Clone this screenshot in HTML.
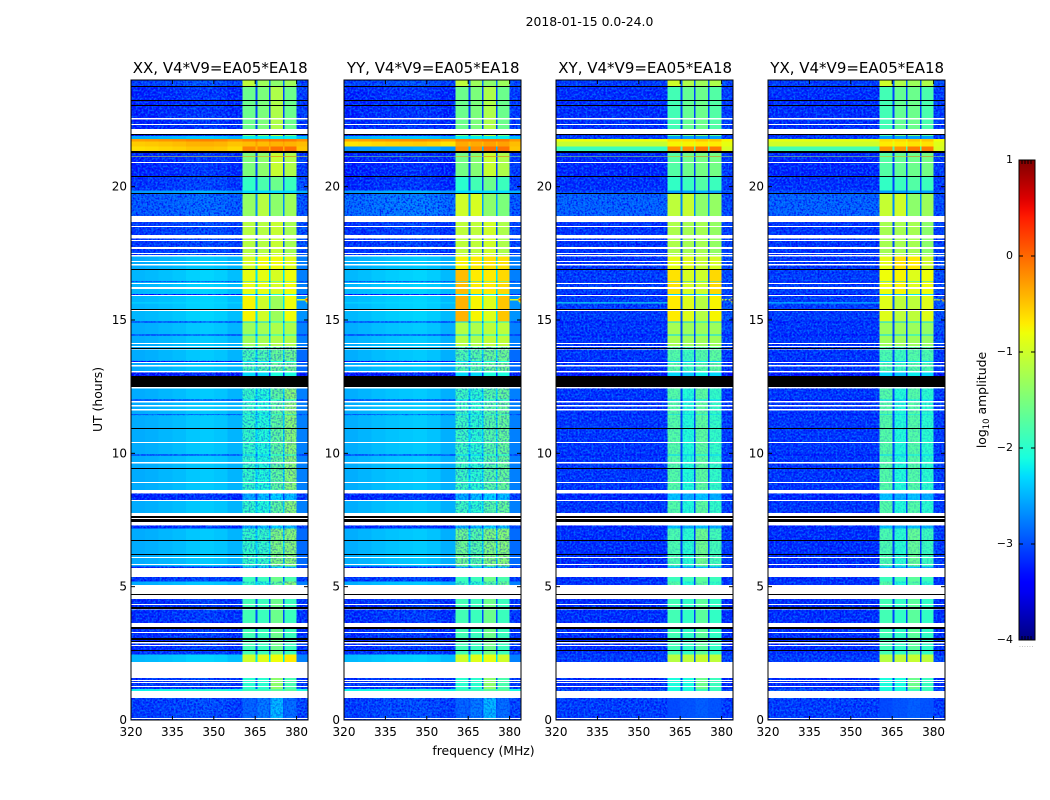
<!DOCTYPE html>
<html>
<head>
<meta charset="utf-8">
<title>2018-01-15 0.0-24.0</title>
<style>
html,body{margin:0;padding:0;background:#fff}
svg{display:block}
text{font-family:"DejaVu Sans","Liberation Sans",sans-serif;fill:#000}
</style>
</head>
<body>
<svg id="figure" xmlns="http://www.w3.org/2000/svg" width="1050" height="800" viewBox="0 0 1050 800">
  <defs>
    <filter id="darkSpeckle" x="0" y="0" width="100%" height="100%" color-interpolation-filters="sRGB">
      <feTurbulence type="fractalNoise" baseFrequency="0.55" numOctaves="1" seed="3"/>
      <feColorMatrix type="matrix" values="0 0 0 0 0  0 0 0 0 0  0 0 0 0 0.95  4 0 0 0 -1.7"/>
    </filter>
    <filter id="lightSpeckle" x="0" y="0" width="100%" height="100%" color-interpolation-filters="sRGB">
      <feTurbulence type="fractalNoise" baseFrequency="0.5" numOctaves="1" seed="11"/>
      <feColorMatrix type="matrix" values="0 0 0 0 0  0 0 0 0 0.55  0 0 0 0 1  4 0 0 0 -1.7"/>
    </filter>
    <linearGradient id="jetGradient" x1="0" y1="1" x2="0" y2="0"></linearGradient>
  </defs>
  <text x="589.5" y="26" font-size="12.4" text-anchor="middle">2018-01-15 0.0-24.0</text>
  <text transform="translate(102,399.5) rotate(-90)" font-size="12.4" text-anchor="middle">UT (hours)</text>
  <text x="483.5" y="755" font-size="12.4" text-anchor="middle">frequency (MHz)</text>
</svg>
<script>
// ---------- Axes data ----------
const panelTitles = ["XX, V4*V9=EA05*EA18", "YY, V4*V9=EA05*EA18", "XY, V4*V9=EA05*EA18", "YX, V4*V9=EA05*EA18"];
const xTicks = [320, 335, 350, 365, 380];
const yTicks = [0, 5, 10, 15, 20];
const colorbarTicks = [1, 0, -1, -2, -3, -4];
const colorbarLabels = ["1", "0", "\u22121", "\u22122", "\u22123", "\u22124"];

// Frequency edges (MHz) of spectrum sections: eight quiet sections, then band / gap alternation, then edge
const freqEdges = [320, 325, 330, 335, 340, 345, 350, 355, 360.4, 365.1, 365.8, 370, 370.5, 375, 375.6, 380, 384.1];
const quietSectionCount = 8;

// Time rows, top to bottom: UT at the top of each row and its kind
const rowTopUT = [24.00,23.77,23.73,23.25,23.21,23.06,23.02,22.56,22.52,22.35,22.32,22.15,21.99,21.93,21.90,21.79,21.70,21.50,21.32,21.28,21.14,21.11,20.92,20.88,20.39,20.36,19.85,19.77,19.73,18.89,18.67,18.54,18.50,18.19,18.06,17.99,17.96,17.72,17.67,17.52,17.49,17.43,17.39,17.22,17.19,17.09,17.05,16.92,16.89,16.45,16.42,16.39,16.36,16.22,16.18,15.97,15.93,15.90,15.43,15.40,15.37,15.33,14.95,14.91,14.45,14.42,14.15,14.10,14.03,13.99,13.94,13.90,13.47,13.43,13.41,13.38,13.30,13.26,13.08,13.04,12.89,12.48,12.44,12.02,11.99,11.95,11.91,11.80,11.76,11.67,11.61,11.46,11.43,10.96,10.93,10.41,10.38,9.96,9.92,9.66,9.62,9.44,9.41,8.91,8.88,8.64,8.59,8.57,8.50,8.24,8.21,7.76,7.64,7.59,7.55,7.42,7.30,7.19,6.74,6.71,6.24,6.21,6.10,6.07,5.85,5.83,5.76,5.70,5.38,5.20,5.08,4.71,4.68,4.53,4.36,4.34,4.22,4.15,3.64,3.58,3.55,3.49,3.47,3.42,3.30,3.26,3.06,3.01,2.98,2.94,2.91,2.87,2.81,2.77,2.63,2.60,2.46,2.16,1.57,1.50,1.47,1.41,1.38,1.28,1.23,1.16,1.08,0.83,0.09,0.05];
const rowKind = ["a","K","b","K","b","K","b","W","b","W","b","W","K","b","c","d","e","f","K","g","h","g","W","g","K","i","j","K","m","W","n","W","n","W","n","W","n","W","n","W","n","W","o","W","o","W","o","K","p","E","p","W","p","W","p","E","W","q","K","q","W","q","E","r","E","r","W","r","W","s","K","s","E","s","W","s","W","s","W","E","K","W","t","E","t","W","t","W","t","W","t","E","t","K","t","W","t","E","t","W","t","K","t","W","t","W","u","W","u","W","t","W","K","W","K","W","u","x","K","x","K","x","W","x","W","x","u","W","y","t","W","K","W","z","W","z","K","z","W","z","W","z","K","z","W","z","K","z","K","z","W","z","W","z","K","z","A","W","B","W","B","W","B","W","B","C","W","D","W","D"];
const rowEndUT = 0;
// Row kinds whose bright channels are visibly speckled
const speckledBandKinds = ["s", "t", "u", "x", "D"];
const bandGrainStrength = [0.36, 0.36, 0.16, 0.16];

// Log10 amplitude per row kind: [quiet, band1, band2, band3, band4, edge]
const levelsXX = {
  a:[-3.0,-1.1,-1.3,-1.4,-1.3,-3.0], b:[-3.2,-1.6,-1.5,-1.2,-1.6,-3.1], c:[-2.45,-2.2,-2.2,-2.2,-2.2,-2.45],
  d:[-0.2,-0.15,-0.15,-0.1,-0.1,-0.2], e:[-0.45,-0.45,-0.45,-0.4,-0.4,-0.45], f:[-0.55,-0.15,-0.15,-0.05,-0.05,-0.5],
  g:[-3.2,-1.5,-1.4,-1.05,-1.2,-3.1], h:[-0.8,-0.2,-0.2,0.1,0.1,-0.8], i:[-3.1,-1.95,-1.8,-1.6,-1.9,-3.0],
  j:[-2.55,-2.3,-2.3,-2.3,-2.3,-2.5], m:[-2.85,-1.35,-1.15,-1.4,-1.3,-2.95], n:[-3.05,-1.15,-1.15,-1.05,-1.25,-2.95],
  o:[-2.45,-0.95,-0.8,-0.8,-0.9,-2.75], p:[-2.4,-0.85,-0.85,-0.95,-0.8,-2.75], q:[-2.4,-0.75,-1.0,-1.3,-0.8,-2.65],
  r:[-2.45,-1.3,-1.25,-1.2,-1.2,-2.75], s:[-2.45,-1.85,-1.8,-1.65,-1.6,-2.85], t:[-2.45,-1.95,-2.05,-1.7,-1.45,-2.75],
  u:[-3.2,-2.5,-2.4,-2.3,-2.4,-3.1], x:[-2.45,-1.95,-1.95,-1.5,-1.45,-2.85], y:[-3.1,-1.9,-1.9,-1.6,-1.8,-3.1],
  z:[-3.15,-1.85,-1.9,-1.6,-1.9,-3.15], A:[-2.4,-1.0,-0.9,-0.8,-0.7,-2.75], B:[-3.1,-2.0,-2.0,-1.4,-1.8,-3.1],
  C:[-2.1,-1.9,-1.9,-1.7,-1.7,-2.1], D:[-3.05,-2.85,-2.75,-2.45,-2.8,-3.05], E:[-3.3,-2.3,-2.3,-2.1,-2.1,-3.3]
};
const levelsYY = {
  a:[-3.0,-1.1,-1.3,-1.4,-1.3,-3.0], b:[-3.2,-1.6,-1.5,-1.2,-1.6,-3.1], c:[-2.45,-2.2,-2.2,-2.2,-2.2,-2.45],
  d:[-0.25,-0.15,-0.15,-0.1,-0.1,-0.25], e:[-0.6,-0.35,-0.35,-0.3,-0.3,-0.45], f:[-2.6,-0.2,-0.2,-0.05,-0.05,-0.5],
  g:[-3.25,-1.55,-1.45,-1.05,-1.2,-3.1], h:[-1.4,-0.2,-0.2,0.1,0.1,-1.4], i:[-3.2,-2.0,-1.85,-1.6,-1.9,-3.1],
  j:[-2.55,-2.3,-2.3,-2.3,-2.3,-2.5], m:[-2.75,-1.0,-0.95,-1.4,-1.5,-2.9], n:[-3.1,-1.1,-1.1,-1.0,-1.2,-3.0],
  o:[-2.45,-0.75,-0.7,-0.65,-0.65,-2.75], p:[-2.4,-0.45,-0.7,-0.7,-0.6,-2.75], q:[-2.4,-0.4,-0.75,-0.9,-0.5,-2.65],
  r:[-2.45,-1.15,-1.2,-1.1,-1.1,-2.75], s:[-2.45,-1.8,-1.75,-1.65,-1.6,-2.85], t:[-2.45,-1.9,-2.0,-1.75,-1.65,-2.75],
  u:[-3.2,-2.5,-2.4,-2.3,-2.4,-3.1], x:[-2.45,-1.6,-1.75,-1.5,-1.45,-2.85], y:[-3.1,-1.9,-1.9,-1.6,-1.8,-3.1],
  z:[-3.15,-1.85,-1.9,-1.6,-1.9,-3.15], A:[-2.4,-1.0,-0.9,-0.85,-1.0,-2.75], B:[-3.1,-2.0,-2.0,-1.4,-1.8,-3.1],
  C:[-2.1,-1.9,-1.9,-1.7,-1.7,-2.1], D:[-3.05,-2.85,-2.75,-2.45,-2.8,-3.05], E:[-3.3,-2.3,-2.3,-2.1,-2.1,-3.3]
};
const levelsXY = {
  a:[-3.1,-1.0,-1.2,-1.3,-1.2,-3.0], b:[-3.2,-1.85,-1.65,-1.6,-1.75,-3.1], c:[-3.1,-2.6,-2.6,-2.6,-2.6,-3.1],
  d:[-0.8,-0.6,-0.6,-0.5,-0.5,-0.75], e:[-1.05,-0.75,-0.75,-0.7,-0.7,-0.85], f:[-1.9,-0.2,-0.2,-0.1,-0.1,-0.95],
  g:[-3.25,-1.75,-1.6,-1.55,-1.55,-3.1], h:[-1.2,-0.3,-0.3,0.05,0.05,-1.2], i:[-3.2,-1.95,-1.9,-1.75,-1.9,-3.1],
  j:[-3.0,-2.6,-2.6,-2.5,-2.6,-3.0], m:[-2.85,-1.1,-1.05,-1.4,-1.35,-3.0], n:[-3.15,-1.2,-1.25,-1.25,-1.35,-3.05],
  o:[-3.15,-0.85,-0.9,-1.05,-0.95,-3.0], p:[-3.1,-0.65,-0.95,-1.0,-0.6,-3.0], q:[-3.1,-0.7,-0.9,-1.15,-0.75,-2.95],
  r:[-3.15,-1.25,-1.3,-1.3,-1.3,-3.0], s:[-3.15,-1.75,-1.9,-1.75,-1.7,-3.1], t:[-3.15,-1.75,-2.05,-1.7,-1.95,-3.1],
  u:[-3.25,-2.4,-2.5,-2.4,-2.5,-3.2], x:[-3.2,-1.8,-2.0,-1.6,-1.85,-3.1], y:[-3.2,-1.9,-1.9,-1.7,-1.9,-3.2],
  z:[-3.2,-1.85,-1.95,-1.7,-1.95,-3.2], A:[-3.1,-1.15,-1.1,-1.05,-1.1,-3.0], B:[-3.2,-2.1,-2.1,-1.6,-1.9,-3.2],
  C:[-3.0,-2.1,-2.1,-1.9,-1.9,-3.0], D:[-3.1,-3.0,-2.95,-2.9,-2.95,-3.1], E:[-3.4,-2.3,-2.4,-2.2,-2.3,-3.4]
};
const levelsYX = {
  a:[-3.1,-1.0,-1.2,-1.3,-1.2,-3.0], b:[-3.2,-1.85,-1.65,-1.6,-1.8,-3.1], c:[-3.1,-2.6,-2.6,-2.6,-2.6,-3.1],
  d:[-0.85,-0.6,-0.6,-0.5,-0.5,-0.8], e:[-1.0,-0.7,-0.7,-0.65,-0.65,-0.9], f:[-1.85,-0.25,-0.25,-0.1,-0.1,-0.95],
  g:[-3.25,-1.75,-1.65,-1.6,-1.55,-3.1], h:[-1.2,-0.3,-0.3,0.05,0.05,-1.2], i:[-3.2,-1.95,-1.9,-1.75,-1.9,-3.1],
  j:[-3.0,-2.6,-2.6,-2.5,-2.6,-3.0], m:[-2.85,-1.05,-1.0,-1.4,-1.3,-3.0], n:[-3.15,-1.25,-1.25,-1.25,-1.4,-3.05],
  o:[-3.15,-0.85,-0.65,-0.7,-1.0,-3.0], p:[-3.1,-0.8,-0.75,-0.9,-0.8,-3.0], q:[-3.1,-0.9,-1.1,-1.1,-0.9,-2.95],
  r:[-3.15,-1.3,-1.3,-1.3,-1.35,-3.0], s:[-3.15,-1.8,-1.9,-1.75,-1.8,-3.1], t:[-3.15,-1.75,-2.05,-1.75,-2.0,-3.1],
  u:[-3.25,-2.4,-2.5,-2.4,-2.5,-3.2], x:[-3.2,-1.8,-2.0,-1.65,-1.9,-3.1], y:[-3.2,-1.9,-1.9,-1.7,-1.9,-3.2],
  z:[-3.2,-1.85,-1.95,-1.7,-1.95,-3.2], A:[-3.1,-1.15,-1.1,-1.05,-1.1,-3.0], B:[-3.2,-2.1,-2.1,-1.6,-1.9,-3.2],
  C:[-3.0,-2.1,-2.1,-1.9,-1.9,-3.0], D:[-3.1,-3.0,-2.95,-2.9,-2.95,-3.1], E:[-3.4,-2.3,-2.4,-2.2,-2.3,-3.4]
};
const panelLevels = [levelsXX, levelsYY, levelsXY, levelsYX];

// Quiet-spectrum shape offsets per panel, one per quiet section
const quietShapeXX = [-0.08, -0.06, -0.03, 0.0, 0.05, 0.07, 0.04, -0.04];
const quietShapeYY = [-0.07, -0.04, 0.0, 0.03, 0.05, 0.07, 0.03, -0.06];
const quietShapeXY = [0, 0, 0, 0, 0, 0, 0, 0];
const quietShapeYX = [0, 0, 0, 0, 0, 0, 0, 0];
const panelQuietShape = [quietShapeXX, quietShapeYY, quietShapeXY, quietShapeYX];

// Interference flare at the band edge, shared by all panels
const flareUT = [15.78, 15.88, 15.68, 15.83, 15.73, 15.78];
const flareStart = [380.2, 383.6, 383.6, 383.2, 383.2, 383.2];
const flareEnd = [384.1, 384.1, 384.1, 384.1, 384.1, 384.1];
const flareValue = [-0.9, -1.4, -1.4, -0.6, -0.6, 0.1];

// Narrow interference line in the quiet spectrum, per panel
const lineUT = 15.66;
const lineStart = 320;
const lineEnd = 360.4;
const lineValue = [-2.3, -2.3, -2.15, -2.3];

// ---------- Layout and scales ----------
const svg = document.getElementById('figure');
const SVG_NS = 'http://www.w3.org/2000/svg';
const panelLeft = [131, 344, 556, 768];
const panelWidth = 177;
const plotTop = 80;
const plotBottom = 720;
const xScale = (left, f) => left + (f - 320) * 2.76;
const yScale = ut => plotBottom - ut * (plotBottom - plotTop) / 24;
const cbarLeft = 1019, cbarRight = 1035, cbarTop = 160, cbarBottom = 640;
const cbarScale = v => cbarTop + (1 - v) * (cbarBottom - cbarTop) / 5;

function interp(t, pts) {
  if (t <= pts[0][0]) return pts[0][1];
  for (let i = 1; i < pts.length; i++) {
    if (t <= pts[i][0]) {
      const a = pts[i - 1], b = pts[i];
      return a[1] + (t - a[0]) / (b[0] - a[0]) * (b[1] - a[1]);
    }
  }
  return pts[pts.length - 1][1];
}
function jet(v) {
  const t = Math.max(0, Math.min(1, (v + 4) / 5));
  const r = interp(t, [[0, 0], [0.35, 0], [0.66, 1], [0.89, 1], [1, 0.5]]);
  const g = interp(t, [[0, 0], [0.125, 0], [0.375, 1], [0.64, 1], [0.91, 0], [1, 0]]);
  const b = interp(t, [[0, 0.5], [0.11, 1], [0.34, 1], [0.65, 0], [1, 0]]);
  return 'rgb(' + Math.round(r * 255) + ',' + Math.round(g * 255) + ',' + Math.round(b * 255) + ')';
}
function make(tag, parent, props) {
  const el = document.createElementNS(SVG_NS, tag);
  for (const k in props) el.setAttribute(k, props[k]);
  parent.appendChild(el);
  return el;
}
// Band and gap sections follow the quiet sections
function sectionValue(levels, shape, s) {
  if (s < quietSectionCount) return levels[0] + shape[s];
  const q = s - quietSectionCount;
  if (q === 0) return levels[1];
  if (q === 2) return levels[2];
  if (q === 4) return levels[3];
  if (q === 6) return levels[4];
  if (q === 7) return levels[5];
  return levels[0] + 0.15;
}
function isBandSection(s) {
  return s >= quietSectionCount && s < freqEdges.length - 2;
}

// ---------- Panels ----------
panelTitles.forEach((title, p) => {
  const left = panelLeft[p];
  const levels = panelLevels[p];
  const shape = panelQuietShape[p];
  const defs = svg.querySelector('defs');
  const clipId = 'panelClip' + p;
  const clip = make('clipPath', defs, { id: clipId });
  make('rect', clip, { x: left, y: plotTop, width: panelWidth, height: plotBottom - plotTop });
  const quietClipId = 'quietGrainClip' + p;
  const quietClip = make('clipPath', defs, { id: quietClipId });
  const bandClipId = 'bandGrainClip' + p;
  const bandClip = make('clipPath', defs, { id: bandClipId });

  const group = make('g', svg, {});
  
  

  const cells = make('g', group, { 'clip-path': 'url(#' + clipId + ')', 'shape-rendering': 'crispEdges' });
  
  

  // Data cells
  rowKind.forEach((kind, r) => {
    if (kind === 'W' || kind === 'K') return;
    const top = yScale(rowTopUT[r]);
    const bot = yScale(r + 1 < rowTopUT.length ? rowTopUT[r + 1] : rowEndUT);
    const quietSpeckled = levels[kind][0] < -2.7;
    const bandSpeckled = speckledBandKinds.includes(kind);
    for (let s = 0; s < freqEdges.length - 1; s++) {
      const x0 = xScale(left, freqEdges[s]);
      const x1 = xScale(left, freqEdges[s + 1]);
      const cell = make('rect', cells, { x: x0, y: top, width: x1 - x0 + 0.4, height: bot - top + 0.4, fill: jet(sectionValue(levels[kind], shape, s)) });
      
      
      if (isBandSection(s)) {
        if (bandSpeckled) make('rect', bandClip, { x: x0, y: top, width: x1 - x0, height: bot - top });
      } else if (quietSpeckled) {
        make('rect', quietClip, { x: x0, y: top, width: x1 - x0, height: bot - top });
      }
    }
  });
  // Flare at band edge
  flareUT.forEach((ut, i) => {
    const x0 = xScale(left, flareStart[i]);
    const x1 = xScale(left, flareEnd[i]);
    const flare = make('rect', cells, { x: x0, y: yScale(ut), width: x1 - x0, height: 1.4, fill: jet(flareValue[i]) });
    
    
  });

  // Texture over the noisy parts of the data
  const grain = make('g', group, { 'clip-path': 'url(#' + quietClipId + ')' });
  
  
  make('rect', grain, { x: left, y: plotTop, width: panelWidth, height: plotBottom - plotTop, filter: 'url(#darkSpeckle)', opacity: 0.8 });
  make('rect', grain, { x: left, y: plotTop, width: panelWidth, height: plotBottom - plotTop, filter: 'url(#lightSpeckle)', opacity: 0.6 });
  const bandGrain = make('g', group, { 'clip-path': 'url(#' + bandClipId + ')' });
  
  
  make('rect', bandGrain, { x: left, y: plotTop, width: panelWidth, height: plotBottom - plotTop, filter: 'url(#darkSpeckle)', opacity: bandGrainStrength[p] });

  // Narrow interference line
  const rfiLine = make('rect', group, { x: xScale(left, lineStart), y: yScale(lineUT), width: xScale(left, lineEnd) - xScale(left, lineStart), height: 1, fill: jet(lineValue[p]) });
  
  

  // Flagged rows (white = no data, black = zero), snapped to whole pixels
  const flags = make('g', group, { 'shape-rendering': 'crispEdges' });
  
  
  rowKind.forEach((kind, r) => {
    if (kind !== 'W' && kind !== 'K') return;
    const top = Math.round(yScale(rowTopUT[r]));
    const bot = Math.round(yScale(r + 1 < rowTopUT.length ? rowTopUT[r + 1] : rowEndUT));
    const row = make('rect', flags, { x: left, y: top, width: panelWidth, height: Math.max(bot - top, 1), fill: kind === 'W' ? '#fff' : '#000' });
    
    
  });

  // Ticks and labels
  xTicks.forEach(f => {
    const x = xScale(left, f);
    const t1 = make('line', group, { x1: x, x2: x, y1: plotBottom, y2: plotBottom - 4, stroke: '#000', 'stroke-width': 1 });
    
    
    const t2 = make('line', group, { x1: x, x2: x, y1: plotTop, y2: plotTop + 4, stroke: '#000', 'stroke-width': 1 });
    
    
    const lab = make('text', group, { x: x, y: 736, 'font-size': 12, 'text-anchor': 'middle' });
    lab.textContent = String(f);
    
    
  });
  yTicks.forEach(ut => {
    const y = yScale(ut);
    const t1 = make('line', group, { x1: left, x2: left + 4, y1: y, y2: y, stroke: '#000', 'stroke-width': 1 });
    
    
    const t2 = make('line', group, { x1: left + panelWidth, x2: left + panelWidth - 4, y1: y, y2: y, stroke: '#000', 'stroke-width': 1 });
    
    
    const lab = make('text', group, { x: left - 4, y: y + 4, 'font-size': 12, 'text-anchor': 'end' });
    lab.textContent = String(ut);
    
    
  });

  const frame = make('rect', group, { x: left, y: plotTop, width: panelWidth, height: plotBottom - plotTop, fill: 'none', stroke: '#000', 'stroke-width': 1 });
  
  

  const titleEl = make('text', group, { x: left + panelWidth / 2 + 0.7, y: 73, 'font-size': 15, 'text-anchor': 'middle' });
  titleEl.textContent = title;
  
  
});

// ---------- Colorbar ----------
const gradient = document.getElementById('jetGradient');
for (let i = 0; i <= 50; i++) {
  const v = -4 + i * 0.1;
  make('stop', gradient, { offset: (i / 50), 'stop-color': jet(v) });
}
const cbar = make('g', svg, {});


const cbarRect = make('rect', cbar, { x: cbarLeft, y: cbarTop, width: cbarRight - cbarLeft, height: cbarBottom - cbarTop, fill: 'url(#jetGradient)', stroke: '#000', 'stroke-width': 1 });


colorbarTicks.forEach((v, i) => {
  const y = cbarScale(v);
  const a = make('line', cbar, { x1: cbarLeft, x2: cbarLeft + 4, y1: y, y2: y, stroke: '#000', 'stroke-width': 1 });
  
  
  const b = make('line', cbar, { x1: cbarRight, x2: cbarRight - 4, y1: y, y2: y, stroke: '#000', 'stroke-width': 1 });
  
  
  const lab = make('text', cbar, { x: 1013, y: y + 3, 'font-size': 11, 'text-anchor': 'end' });
  lab.textContent = colorbarLabels[i];
  
  
});
[1022, 1025, 1028, 1031].forEach(x => {
  const up = make('line', cbar, { x1: x, x2: x, y1: cbarTop, y2: cbarTop + 4, stroke: '#000', 'stroke-width': 1 });
  
  
  const dn = make('line', cbar, { x1: x, x2: x, y1: cbarBottom, y2: cbarBottom - 4, stroke: '#000', 'stroke-width': 1 });
  
  
});
const dots = make('text', cbar, { x: 1026.5, y: 647, 'font-size': 6, 'text-anchor': 'middle', style: 'fill:#888;letter-spacing:0.6px' });
dots.textContent = '......';



const cbarTitle = make('text', cbar, { transform: 'translate(986,400) rotate(-90)', 'font-size': 12.4, 'text-anchor': 'middle' });


const part1 = make('tspan', cbarTitle, {});
part1.textContent = 'log';
const part2 = make('tspan', cbarTitle, { 'font-size': 8.5, dy: 3 });
part2.textContent = '10';
const part3 = make('tspan', cbarTitle, { dy: -3 });
part3.textContent = ' amplitude';
</script>
</body>
</html>
